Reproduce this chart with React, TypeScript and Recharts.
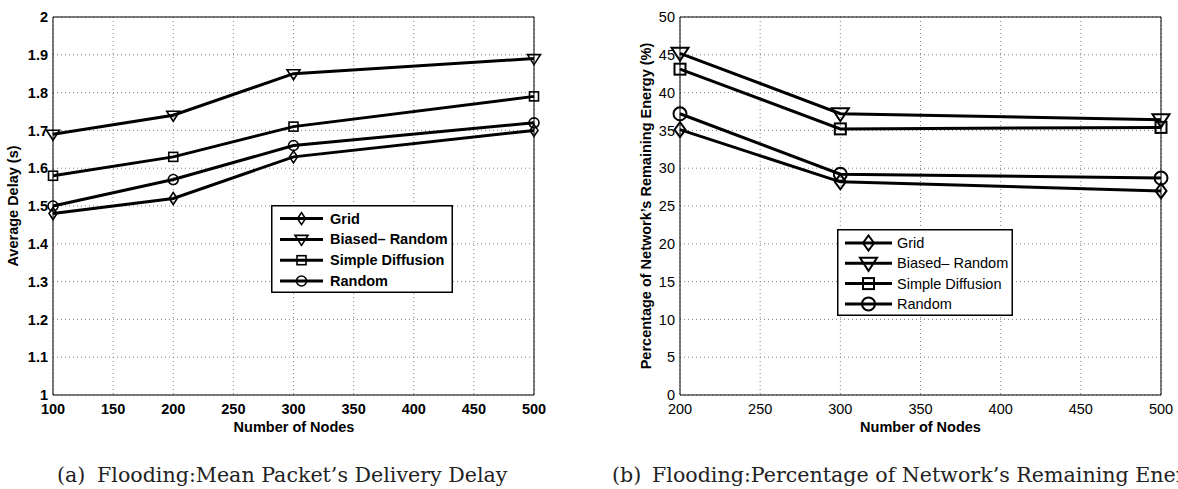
import React from 'react';
import { LineChart, Line, XAxis, YAxis, CartesianGrid, Legend } from 'recharts';

// (a) mean packet delivery delay
const NODES_A = [100, 200, 300, 500];
const GRID_A = [1.48, 1.52, 1.63, 1.70];
const BIASED_A = [1.69, 1.74, 1.85, 1.89];
const DIFFUSION_A = [1.58, 1.63, 1.71, 1.79];
const RANDOM_A = [1.50, 1.57, 1.66, 1.72];
const X_TICKS_A = [100, 150, 200, 250, 300, 350, 400, 450, 500];
const Y_TICKS_A = [1, 1.1, 1.2, 1.3, 1.4, 1.5, 1.6, 1.7, 1.8, 1.9, 2];

// (b) remaining energy
const NODES_B = [200, 300, 500];
const GRID_B = [35.1, 28.2, 27.0];
const BIASED_B = [45.2, 37.2, 36.4];
const DIFFUSION_B = [43.1, 35.2, 35.4];
const RANDOM_B = [37.2, 29.2, 28.7];
const X_TICKS_B = [200, 250, 300, 350, 400, 450, 500];
const Y_TICKS_B = [0, 5, 10, 15, 20, 25, 30, 35, 40, 45, 50];

const SERIES = [
    { key: 'grid', name: 'Grid', shape: 'diamond' },
    { key: 'biased', name: 'Biased\u2013 Random', shape: 'triangle' },
    { key: 'diffusion', name: 'Simple Diffusion', shape: 'square' },
    { key: 'random', name: 'Random', shape: 'circle' },
];

const ROWS_A = NODES_A.map((n, i) => ({
    n, grid: GRID_A[i], biased: BIASED_A[i], diffusion: DIFFUSION_A[i], random: RANDOM_A[i],
}));
const ROWS_B = NODES_B.map((n, i) => ({
    n, grid: GRID_B[i], biased: BIASED_B[i], diffusion: DIFFUSION_B[i], random: RANDOM_B[i],
}));

const SANS = '"Liberation Sans", Arial, sans-serif';
const SERIF = '"DejaVu Serif", serif';

const SMALL = { dw: 4, dh: 6, tw: 6.5, tt: 4, tb: 6, sq: 4.5, r: 5, sw: 1.6 };
const LARGE = { dw: 5.5, dh: 7.5, tw: 8.5, tt: 5.5, tb: 7.5, sq: 5.5, r: 6.5, sw: 2 };

function Marker({ shape, cx, cy, m }: any) {
    const common = { fill: 'none', stroke: '#000', strokeWidth: m.sw };
    if (shape === 'diamond') {
        return <polygon {...common} points={`${cx},${cy - m.dh} ${cx + m.dw},${cy} ${cx},${cy + m.dh} ${cx - m.dw},${cy}`} />;
    }
    if (shape === 'triangle') {
        return <polygon {...common} points={`${cx - m.tw},${cy - m.tt} ${cx + m.tw},${cy - m.tt} ${cx},${cy + m.tb}`} />;
    }
    if (shape === 'square') {
        return <rect {...common} x={cx - m.sq} y={cy - m.sq} width={m.sq * 2} height={m.sq * 2} />;
    }
    return <circle {...common} cx={cx} cy={cy} r={m.r} />;
}

const makeDot = (shape: string, m: any) => (p: any) => (
    <g key={`${shape}-${p.index}`}>
        <Marker shape={shape} cx={p.cx} cy={p.cy} m={m} />
    </g>
);

function LegendBox({ w, h, rowTop, rowGap, lineX0, lineX1, textX, bold, m }: any) {
    return (
        <svg width={w} height={h} style={{ display: 'block' }}>
            <rect x={0.75} y={0.75} width={w - 1.5} height={h - 1.5} fill="#fff" stroke="#000" strokeWidth={1.5} />
            {SERIES.map((s, i) => {
                const y = rowTop + i * rowGap;
                const cx = (lineX0 + lineX1) / 2;
                return (
                    <g key={s.key}>
                        <line x1={lineX0} x2={lineX1} y1={y} y2={y} stroke="#000" strokeWidth={3} />
                        <Marker shape={s.shape} cx={cx} cy={y} m={m} />
                        <text x={textX} y={y} dominantBaseline="central" fontFamily={SANS} fontSize={14.5}
                            fontWeight={bold ? 700 : 400} fill="#000">{s.name}</text>
                    </g>
                );
            })}
        </svg>
    );
}

// margin + axis sizes put the plot box exactly where the reference has it
function Panel({ rows, xTicks, yTicks, xDomain, yDomain, width, plotLeft, plotRight, bold, m, legend }: any) {
    const tick = { fontFamily: SANS, fontSize: 14.5, fontWeight: bold ? 700 : 400, fill: '#000' };
    const axisLine = { stroke: '#000', strokeWidth: 1 };
    return (
        <LineChart width={width} height={489} data={rows}
            margin={{ top: 12, left: plotLeft - 40, right: width - plotRight - 5, bottom: 64 }}>
            <CartesianGrid stroke="#808080" strokeDasharray="1 3" />
            <XAxis dataKey="n" type="number" domain={xDomain} ticks={xTicks} height={30}
                tickLine={false} tickSize={0} tickMargin={9} tick={tick} axisLine={axisLine} interval={0} />
            <YAxis type="number" domain={yDomain} ticks={yTicks} width={40}
                tickLine={false} tickSize={0} tickMargin={5} tick={tick} axisLine={axisLine} interval={0} />
            <XAxis xAxisId="top" orientation="top" dataKey="n" type="number" domain={xDomain} height={5}
                tick={false} tickLine={false} axisLine={axisLine} />
            <YAxis yAxisId="right" orientation="right" type="number" domain={yDomain} width={5}
                tick={false} tickLine={false} axisLine={axisLine} />
            <Legend layout="vertical" align="center" verticalAlign="middle"
                wrapperStyle={{ left: legend.left, top: legend.top, width: legend.w, height: legend.h }}
                content={() => <LegendBox {...legend} bold={bold} m={m} />} />
            {SERIES.map(s => (
                <Line key={s.key} dataKey={s.key} name={s.name} stroke="#000" strokeWidth={3}
                    dot={makeDot(s.shape, m)} activeDot={false} isAnimationActive={false} />
            ))}
        </LineChart>
    );
}

export default function App() {
    return (
        <div style={{ position: 'absolute', left: 0, top: 0, width: 1178, height: 489, background: '#fff', overflow: 'hidden' }}>
            <div style={{ position: 'absolute', left: 0, top: 0 }}>
                <Panel rows={ROWS_A} xTicks={X_TICKS_A} yTicks={Y_TICKS_A} xDomain={[100, 500]} yDomain={[1, 2]}
                    width={590} plotLeft={53} plotRight={534} bold m={SMALL}
                    legend={{ left: 271, top: 205, w: 182, h: 88, rowTop: 13.6, rowGap: 20.8, lineX0: 9, lineX1: 52, textX: 59 }} />
            </div>
            <div style={{ position: 'absolute', left: 590, top: 0 }}>
                <Panel rows={ROWS_B} xTicks={X_TICKS_B} yTicks={Y_TICKS_B} xDomain={[200, 500]} yDomain={[0, 50]}
                    width={588} plotLeft={90} plotRight={571} bold={false} m={LARGE}
                    legend={{ left: 247, top: 229, w: 176, h: 87, rowTop: 14, rowGap: 20.3, lineX0: 8, lineX1: 55, textX: 60 }} />
            </div>
            <svg width={1178} height={489} style={{ position: 'absolute', left: 0, top: 0, pointerEvents: 'none' }}>
                <g fontFamily={SANS} fontWeight={700} fontSize={14.5} fill="#000">
                    <text x={294} y={427} textAnchor="middle" dominantBaseline="central">Number of Nodes</text>
                    <text x={920.5} y={427} textAnchor="middle" dominantBaseline="central">Number of Nodes</text>
                    <text transform="translate(13,206) rotate(-90)" textAnchor="middle" dominantBaseline="central">Average Delay (s)</text>
                    <text transform="translate(645.5,206) rotate(-90)" textAnchor="middle" dominantBaseline="central">
                        Percentage of Network&#8217;s Remaining Energy (%)
                    </text>
                </g>
                <g fontFamily={SERIF} fontSize={20.6} fill="#222">
                    <text x={57} y={482}>(a)</text>
                    <text x={97} y={482}>Flooding:Mean Packet&#8217;s Delivery Delay</text>
                    <text x={612} y={482}>(b)</text>
                    <text x={652} y={482}>Flooding:Percentage of Network&#8217;s Remaining Energy</text>
                </g>
            </svg>
        </div>
    );
}
